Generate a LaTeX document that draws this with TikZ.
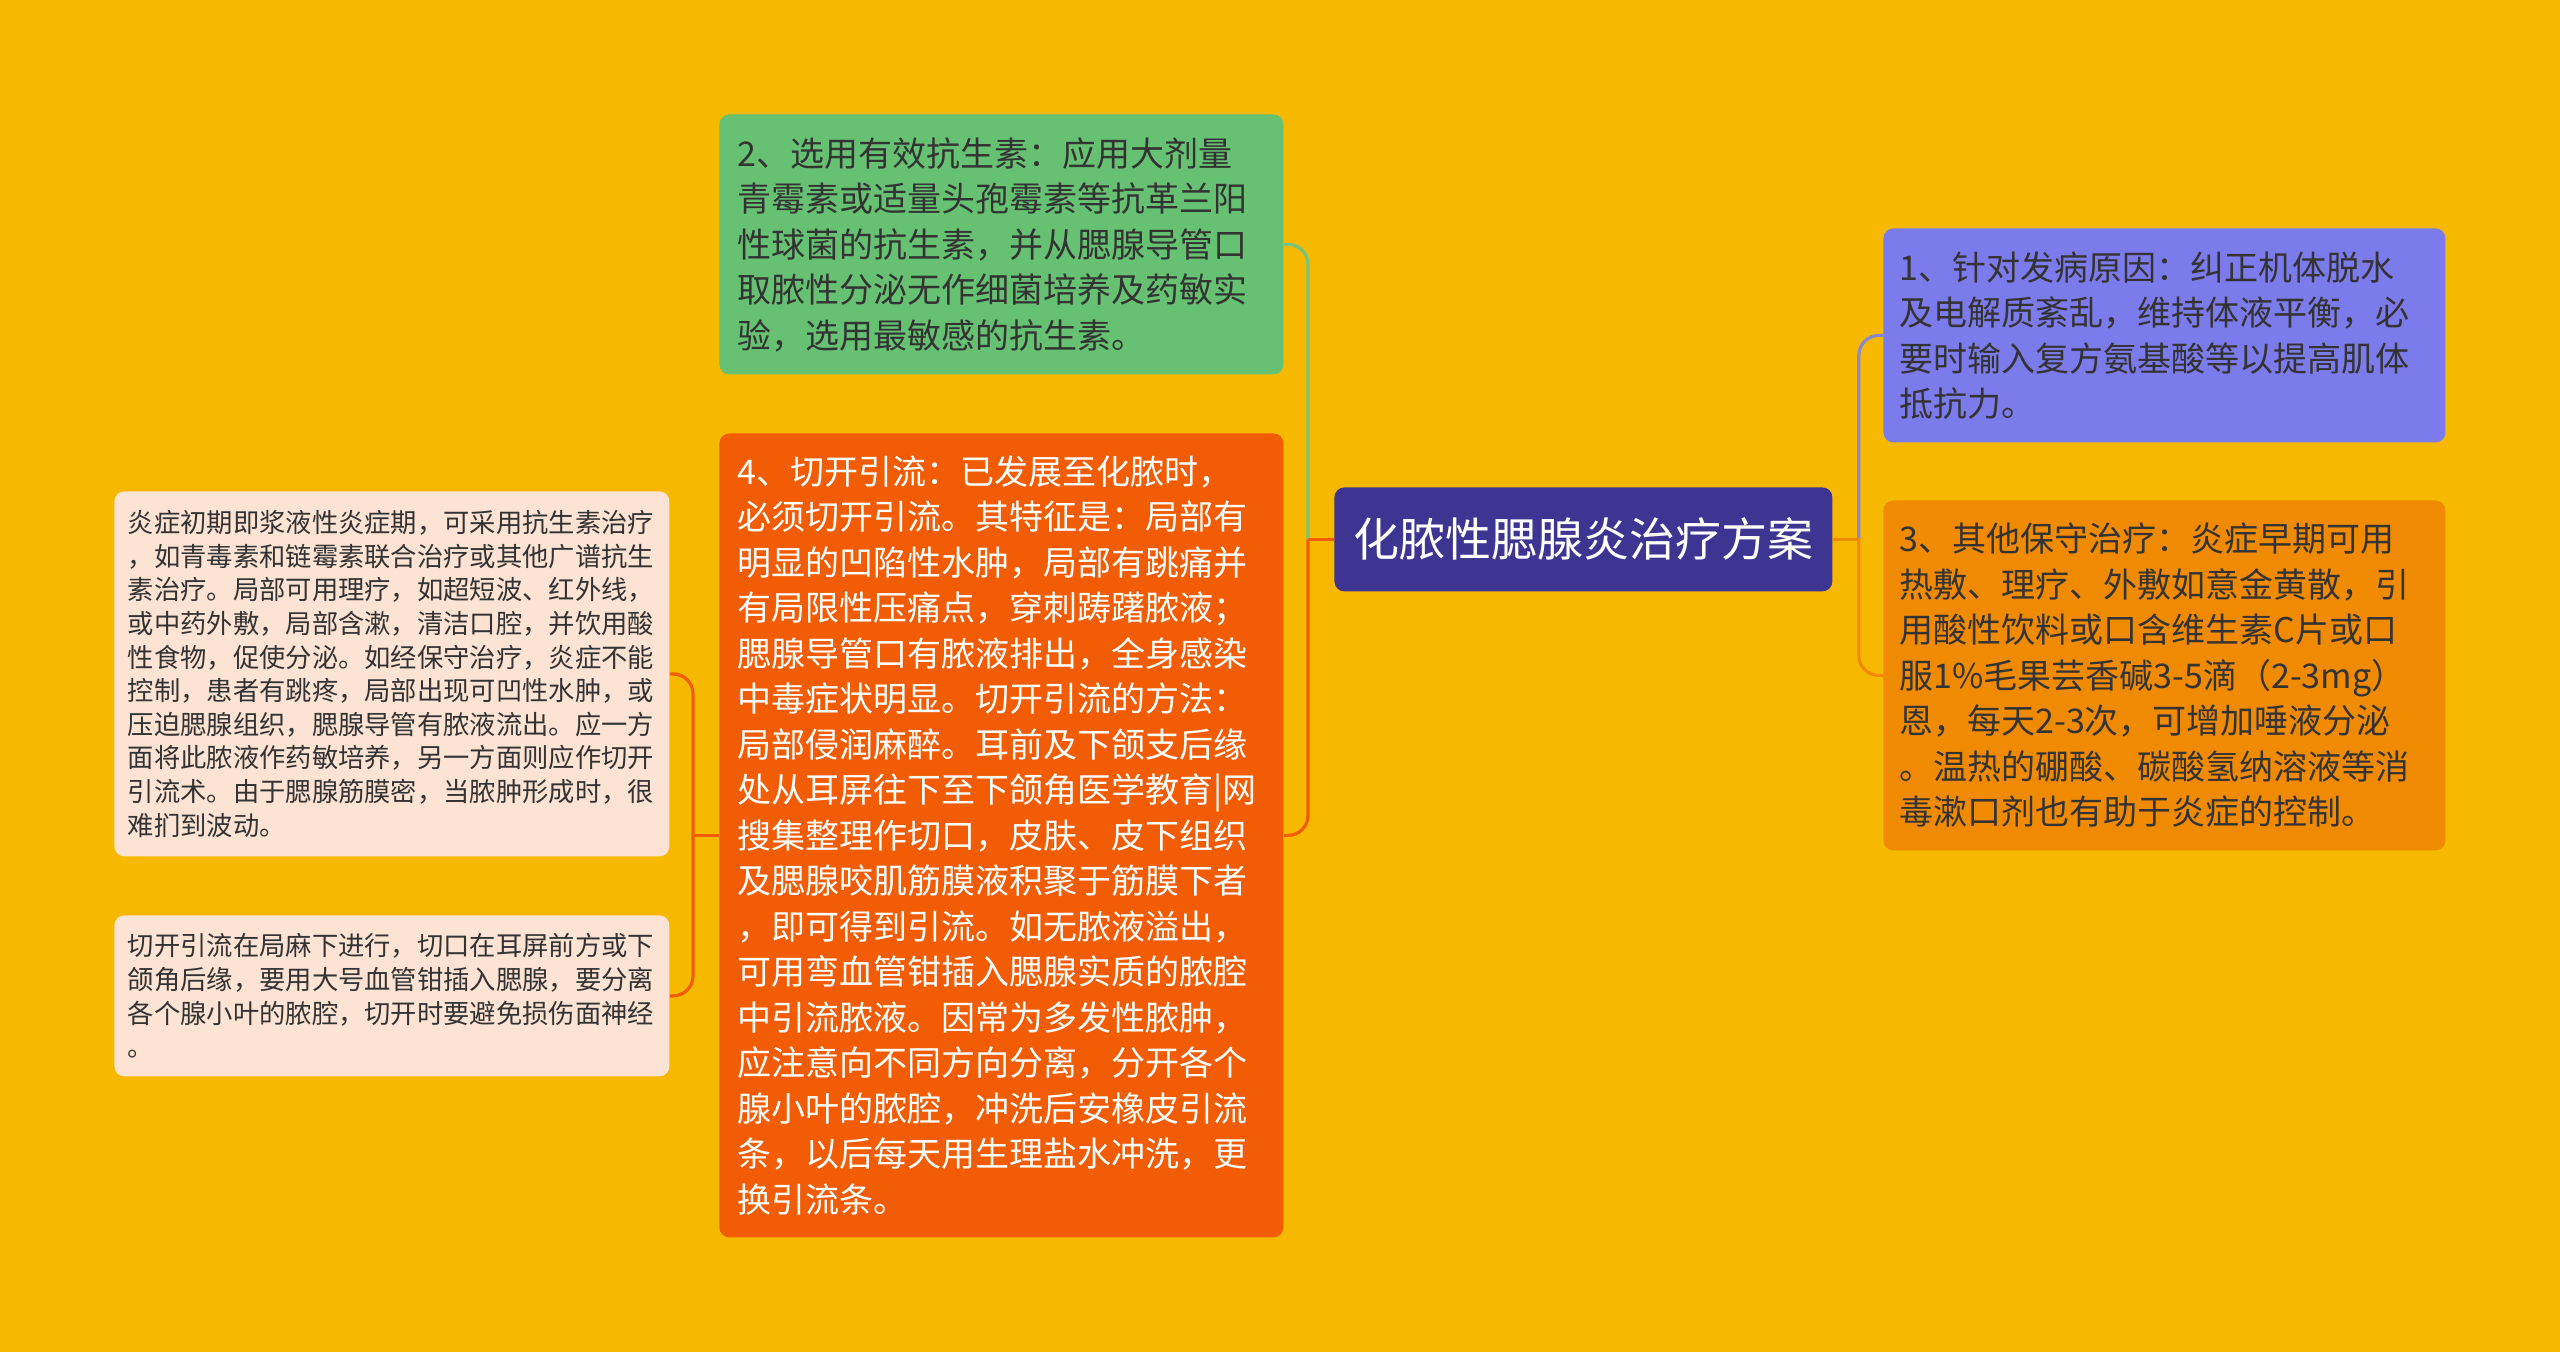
\documentclass[tikz,border=0pt]{standalone}
\usepackage{fontspec}
\setmainfont{Noto Sans CJK SC}
\definecolor{bgc}{HTML}{F6B900}
\definecolor{rootc}{HTML}{3D3591}
\definecolor{greenc}{HTML}{66C272}
\definecolor{redc}{HTML}{F25C05}
\definecolor{bluec}{HTML}{7B7BEB}
\definecolor{orangec}{HTML}{F08A00}
\definecolor{peachc}{HTML}{FCE3D3}
\definecolor{txtc}{HTML}{333333}
\definecolor{greenl}{HTML}{78C47C}
\definecolor{bluel}{HTML}{8A87D0}
\tikzset{
  box/.style={rounded corners=5pt, anchor=north west, align=left, inner xsep=9pt, inner ysep=0pt,
    text width=264pt, font=\fontsize{17}{22.75}\selectfont, text=txtc},
  smallbox/.style={rounded corners=5pt, anchor=north west, align=left, inner xsep=6.75pt, inner ysep=0pt,
    text width=264pt, font=\fontsize{13.15}{16.8}\selectfont, fill=peachc, text=txtc},
  rootbox/.style={rounded corners=5pt, anchor=north west, align=center, inner sep=0pt,
    minimum width=249pt, minimum height=52pt, fill=rootc, text=white, font=\fontsize{23}{28}\selectfont},
  conn/.style={line width=1.6pt, rounded corners=10pt}
}
\begin{document}
\begin{tikzpicture}[x=0.5pt,y=-0.5pt]
\useasboundingbox (0,0) rectangle (2560,1352);
\fill[bgc] (0,0) rectangle (2560,1352);

\node[rootbox] (root) at (1334,487) {化脓性腮腺炎治疗方案};

\node[box, fill=greenc, minimum height=130pt] (b2) at (719,114) {2、选用有效抗生素：应用大剂量\\青霉素或适量头孢霉素等抗革兰阳\\性球菌的抗生素，并从腮腺导管口\\取脓性分泌无作细菌培养及药敏实\\验，选用最敏感的抗生素。};

\node[box, fill=redc, text=white, minimum height=402pt] (b4) at (719,433) {4、切开引流：已发展至化脓时，\\必须切开引流。其特征是：局部有\\明显的凹陷性水肿，局部有跳痛并\\有局限性压痛点，穿刺踌躇脓液；\\腮腺导管口有脓液排出，全身感染\\中毒症状明显。切开引流的方法：\\局部侵润麻醉。耳前及下颌支后缘\\处从耳屏往下至下颌角医学教育|网\\搜集整理作切口，皮肤、皮下组织\\及腮腺咬肌筋膜液积聚于筋膜下者\\，即可得到引流。如无脓液溢出，\\可用弯血管钳插入腮腺实质的脓腔\\中引流脓液。因常为多发性脓肿，\\应注意向不同方向分离，分开各个\\腺小叶的脓腔，冲洗后安橡皮引流\\条，以后每天用生理盐水冲洗，更\\换引流条。};

\node[box, fill=bluec, minimum height=107pt, inner xsep=8pt, text width=265pt] (b1) at (1883,228) {1、针对发病原因：纠正机体脱水\\及电解质紊乱，维持体液平衡，必\\要时输入复方氨基酸等以提高肌体\\抵抗力。};

\node[box, fill=orangec, minimum height=175pt, inner xsep=8pt, text width=265pt] (b3) at (1883,500) {3、其他保守治疗：炎症早期可用\\热敷、理疗、外敷如意金黄散，引\\用酸性饮料或口含维生素C片或口\\服1\%毛果芸香碱3-5滴（2-3mg）\\恩，每天2-3次，可增加唾液分泌\\。温热的硼酸、碳酸氢纳溶液等消\\毒漱口剂也有助于炎症的控制。};

\node[smallbox, minimum height=182.5pt] (la) at (114,491) {炎症初期即浆液性炎症期，可采用抗生素治疗\\，如青毒素和链霉素联合治疗或其他广谱抗生\\素治疗。局部可用理疗，如超短波、红外线，\\或中药外敷，局部含漱，清洁口腔，并饮用酸\\性食物，促使分泌。如经保守治疗，炎症不能\\控制，患者有跳疼，局部出现可凹性水肿，或\\压迫腮腺组织，腮腺导管有脓液流出。应一方\\面将此脓液作药敏培养，另一方面则应作切开\\引流术。由于腮腺筋膜密，当脓肿形成时，很\\难扪到波动。};

\node[smallbox, minimum height=80.5pt] (lb) at (114,915) {切开引流在局麻下进行，切口在耳屏前方或下\\颌角后缘，要用大号血管钳插入腮腺，要分离\\各个腺小叶的脓腔，切开时要避免损伤面神经\\。};

% junction coordinates
\coordinate (tl) at ([xshift=-13pt]root.west);
\coordinate (tr) at ([xshift=13pt]root.east);
\coordinate (tb) at ([xshift=-13pt]b4.west);

% left of root
\draw[conn, greenl] (tl) |- (b2.east);
\draw[conn, redc] (tl) |- (b4.east);
\draw[line width=1.6pt, redc] (root.west) -- (tl);

% right of root
\draw[conn, bluel] (tr) |- (b1.west);
\draw[conn, orangec] (tr) |- (b3.west);
\draw[line width=1.6pt, orangec] (root.east) -- (tr);

% left of box 4
\draw[conn, redc] (tb) |- (la.east);
\draw[conn, redc] (tb) |- (lb.east);
\draw[line width=1.6pt, redc] (b4.west) -- (tb);
\end{tikzpicture}
\end{document}
